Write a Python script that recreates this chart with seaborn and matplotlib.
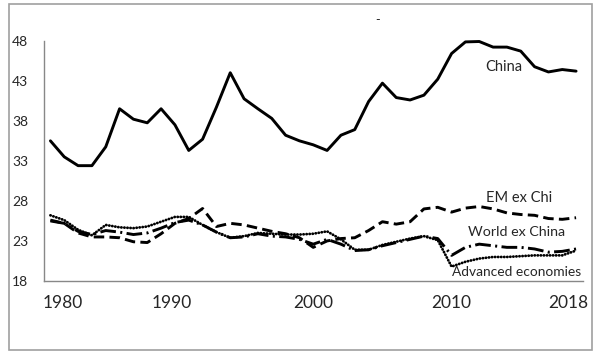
import matplotlib
matplotlib.use("Agg")
import matplotlib.pyplot as plt
import matplotlib.patches as patches
import seaborn as sns
import pandas as pd

# Series values, one point per year (39 years, first one plotted at position 0)
china = [35.5, 33.5, 32.4, 32.4, 34.75, 39.5, 38.2, 37.75, 39.5, 37.5,
         34.3, 35.7, 39.7, 44.0, 40.75, 39.5, 38.3, 36.2, 35.5, 35.0,
         34.3, 36.2, 36.9, 40.4, 42.7, 40.9, 40.6, 41.2, 43.2, 46.4,
         47.85, 47.9, 47.2, 47.2, 46.7, 44.75, 44.1, 44.4, 44.2]
em_ex_china = [25.6, 25.2, 24.0, 23.5, 23.5, 23.4, 22.9, 22.8, 23.9, 25.2,
               25.8, 27.05, 24.8, 25.2, 25.0, 24.6, 24.2, 23.9, 23.4, 22.2,
               23.0, 23.3, 23.4, 24.3, 25.4, 25.1, 25.4, 27.0, 27.2, 26.6,
               27.1, 27.3, 27.0, 26.5, 26.3, 26.2, 25.8, 25.7, 25.9]
world_ex_china = [25.5, 25.2, 24.2, 23.8, 24.3, 24.1, 23.8, 24.0, 24.6, 25.3,
                  25.6, 25.0, 24.1, 23.4, 23.5, 23.9, 23.6, 23.5, 23.2, 22.6,
                  23.2, 22.6, 21.8, 21.9, 22.4, 22.8, 23.2, 23.6, 23.3, 21.2,
                  22.2, 22.6, 22.4, 22.2, 22.2, 22.0, 21.6, 21.7, 22.0]
advanced = [26.2, 25.6, 24.4, 23.7, 25.0, 24.7, 24.6, 24.8, 25.4, 26.0,
            26.0, 25.0, 24.1, 23.4, 23.6, 24.0, 23.9, 23.8, 23.8, 23.9,
            24.2, 23.2, 21.9, 21.9, 22.5, 22.9, 23.3, 23.6, 23.1, 19.8,
            20.4, 20.8, 21.0, 21.0, 21.1, 21.2, 21.2, 21.2, 21.8]

# x tick labels and where they sit in the original
year_labels = ["1980", "1990", "2000", "2010", "2018"]
year_label_pos = [0.9, 8.8, 19.0, 29.0, 37.4]
y_ticks = [18, 23, 28, 33, 38, 43, 48]

df = pd.DataFrame({
    "pos": range(len(china)),
    "China": china,
    "EM ex Chi": em_ex_china,
    "World ex China": world_ex_china,
    "Advanced economies": advanced,
})

sns.set_style("white")
plt.rcParams["font.family"] = ["Lato", "DejaVu Sans"]

fig = plt.figure(figsize=(6.02, 3.6), dpi=100)
ax = fig.add_axes([43.5 / 602, 1 - 281 / 360, (583 - 43.5) / 602, (281 - 40.7) / 360])

lw = 2.1
sns.lineplot(data=df, x="pos", y="China", ax=ax, color="black", lw=lw, clip_on=False)
sns.lineplot(data=df, x="pos", y="EM ex Chi", ax=ax, color="black", lw=lw,
             dashes=(3.6, 1.8), clip_on=False)
sns.lineplot(data=df, x="pos", y="World ex China", ax=ax, color="black", lw=lw,
             dashes=(5.4, 1.5, 0.7, 1.5), clip_on=False)
sns.lineplot(data=df, x="pos", y="Advanced economies", ax=ax, color="black", lw=2.0,
             dashes=(0.1, 1.0), dash_capstyle="round", clip_on=False)

ax.set_xlim(-0.5, len(china) - 0.5)
ax.set_ylim(18, 48)
ax.set_xlabel("")
ax.set_ylabel("")

# year boundaries as small ticks, labels placed freely
ax.set_xticks([i - 0.5 for i in range(len(china) + 1)], minor=True)
ax.set_xticks(year_label_pos)
ax.set_xticklabels(year_labels, fontsize=12.5)
ax.tick_params(axis="x", which="major", length=0, pad=10)
ax.tick_params(axis="x", which="minor", length=3, width=0.8, color="#888888", direction="out")
ax.set_yticks(y_ticks)
ax.set_yticklabels([str(t) for t in y_ticks], fontsize=10)
ax.tick_params(axis="y", length=3, width=0.8, color="#888888", direction="out", pad=8)

for side in ["top", "right"]:
    ax.spines[side].set_visible(False)
for side in ["left", "bottom"]:
    ax.spines[side].set_color("#888888")
    ax.spines[side].set_linewidth(1.0)

# series labels
ax.text(485 / 602, 1 - 67 / 360, "China", transform=fig.transFigure, fontsize=10.5, va="center")
ax.text(486 / 602, 1 - 198 / 360, "EM ex Chi", transform=fig.transFigure, fontsize=10.5, va="center")
ax.text(468 / 602, 1 - 232 / 360, "World ex China", transform=fig.transFigure, fontsize=10.3, va="center")
ax.text(452 / 602, 1 - 272 / 360, "Advanced economies", transform=fig.transFigure, fontsize=9.9, va="center")
fig.text(378 / 602, 1 - 20 / 360, "-", fontsize=9, ha="center", va="center")

# outer frame
fig.patches.append(patches.Rectangle((9 / 602, 1 - 350 / 360), (591.5 - 9) / 602, (350 - 4) / 360,
                                     transform=fig.transFigure, fill=False,
                                     edgecolor="#a0a0a0", lw=1.2))

fig.savefig("out.png", dpi=100)
